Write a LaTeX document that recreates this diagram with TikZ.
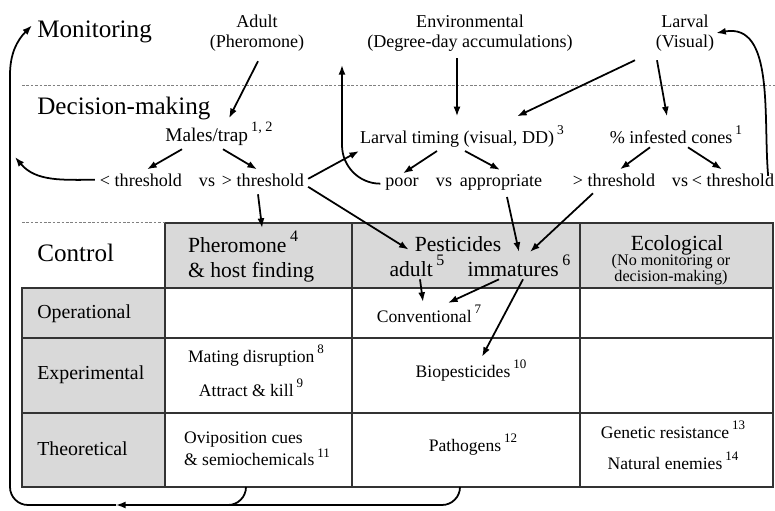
\documentclass[tikz,border=0pt]{standalone}
\usepackage{fontspec}
\setmainfont{Liberation Serif}
\usetikzlibrary{arrows.meta,calc}

\newcommand{\refno}[1]{\,\raisebox{0.48em}{\scalebox{0.74}{#1}}}

\tikzset{
  arr/.style={line width=1pt,-{Latex[length=5.5pt,width=4pt]}},
  level/.style={font=\fontsize{14.3}{16}\selectfont,inner sep=0pt,anchor=base west},
  src/.style={font=\fontsize{10.3}{11.3}\selectfont,inner sep=1pt,align=center},
  dm/.style={font=\fontsize{10.3}{12}\selectfont,inner sep=1pt,anchor=base},
  hdr/.style={font=\fontsize{12.3}{14}\selectfont,inner sep=1pt,anchor=base},
  rowlab/.style={font=\fontsize{11.3}{13}\selectfont,inner sep=0pt,anchor=base west},
  cell/.style={font=\fontsize{10}{12.5}\selectfont,inner sep=1pt,anchor=base},
  note/.style={font=\fontsize{9.2}{9}\selectfont,inner sep=0pt,align=center},
  sep/.style={gray,line width=0.5pt,dash pattern=on 1.5pt off 1pt},
  grid/.style={black!80,line width=0.8pt},
}

\begin{document}
\begin{tikzpicture}[x=0.02cm,y=-0.02cm]
            \useasboundingbox (0,0) rectangle (775,511);
            % Table
            \fill[gray!30] (165,223) rectangle (773,288);
            \fill[gray!30] (22,288) rectangle (165,487);
            \draw[grid] (165,223) -- (773,223) -- (773,487) -- (22,487) -- (22,288) -- (773,288);
            \draw[grid] (165,223) -- (165,487);
            \draw[grid] (352,223) -- (352,487);
            \draw[grid] (580,223) -- (580,487);
            \draw[grid] (22,338) -- (773,338);
            \draw[grid] (22,413) -- (773,413);
            \draw[sep] (22,85) -- (775,85);
            \draw[sep] (22,222) -- (165,222);

            % Levels
            \node[level] (mon) at (37,37) {Monitoring};
            \node[level] (dec) at (37,114) {Decision-making};
            \node[level] (ctl) at (37,261) {Control};

            % Monitoring
            \node[src] (adult) at (257,33) {Adult\\(Pheromone)};
            \node[src] (env) at (470,33) {Environmental\\(Degree-day accumulations)};
            \node[src] (larv) at (685,33) {Larval\\(Visual)};

            % Decision-making
            \node[dm,font=\fontsize{11}{12}\selectfont] (males) at (219,141) {Males/trap\refno{1, 2}};
            \node[dm] (timing) at (462,143) {Larval timing (visual, DD)\refno{3}};
            \node[dm] (infest) at (676,143) {\% infested cones\refno{1}};
            \node[dm] (ltA) at (141,186) {< threshold};
            \node[dm] (vsA) at (207,186) {vs};
            \node[dm] (gtA) at (263,186) {> threshold};
            \node[dm] (poor) at (402,186) {poor};
            \node[dm] (vsB) at (444,186) {vs};
            \node[dm] (appr) at (501,186) {appropriate};
            \node[dm] (gtB) at (614,186) {> threshold};
            \node[dm] (vsC) at (680,186) {vs};
            \node[dm] (ltC) at (733,186) {< threshold};

            % Control header
            \node[hdr,anchor=base west] (pher) at (186,252) {Pheromone\refno{4}};
            \node[hdr,anchor=base west] (host) at (186,277) {\& host finding};
            \node[hdr] (pest) at (458,251) {Pesticides};
            \node[hdr] (adP) at (417,276) {adult\refno{5}};
            \node[hdr] (imm) at (519,276) {immatures\refno{6}};
            \node[hdr] (eco) at (677,250) {Ecological};
            \node[note] (nomon) at (671,270) {(No monitoring or\\decision-making)};

            % Rows
            \node[rowlab] (oper) at (37,318) {Operational};
            \node[rowlab] (expe) at (37,379) {Experimental};
            \node[rowlab] (theo) at (37,455) {Theoretical};
            \node[cell] (conv) at (429,322) {Conventional\refno{7}};
            \node[cell] (mate) at (256,362) {Mating disruption\refno{8}};
            \node[cell] (kill) at (251,396) {Attract \& kill\refno{9}};
            \node[cell] (bio) at (471,377) {Biopesticides\refno{10}};
            \node[cell,align=left,anchor=center] (ovi) at (257,449) {Oviposition cues\\\& semiochemicals\refno{11}};
            \node[cell] (path) at (473,451) {Pathogens\refno{12}};
            \node[cell] (gene) at (673,438) {Genetic resistance\refno{13}};
            \node[cell] (nat) at (673,469) {Natural enemies\refno{14}};

            % Monitoring -> decision
            \draw[arr] ($(adult.south)+(1,8)$) -- ($(males.north)+(10,-2)$);
            \draw[arr] ($(env.south)+(-13,5)$) -- ($(timing.north)+(-5,-7)$);
            \draw[arr] ($(larv.south)+(-50,7)$) -- ($(timing.north)+(55,-7)$);
            \draw[arr] ($(larv.south)+(-28,7)$) -- ($(infest.north)+(-9,-7)$);
            \draw[arr] ($(ltC.east)+(-8,-4)$) to[out=95,in=10] (larv.east);

            % Decision-making
            \draw[arr] ($(males.south)+(-37,2)$) -- ($(ltA.north)+(6,-2)$);
            \draw[arr] ($(males.south)+(4,2)$) -- ($(gtA.north)+(-6,-2)$);
            \draw[arr] ($(timing.south)+(-25,2)$) -- ($(poor.north)+(1,-2)$);
            \draw[arr] ($(timing.south)+(3,2)$) -- ($(appr.north)+(-1,-2)$);
            \draw[arr] ($(infest.south)+(-26,2)$) -- ($(gtB.north)+(6,-2)$);
            \draw[arr] ($(infest.south)+(12,2)$) -- ($(ltC.north)+(-11,-2)$);
            \coordinate (backL) at (15,157);
            \draw[arr] ($(ltA.west)+(-3,0)$) to[out=180,in=-50] (backL);
            \coordinate (backM) at (342,65);
            \draw[arr] ($(poor.west)+(-3,0)$) to[out=180,in=-90] ($(backM)+(0,80)$) -- (backM);
            \draw[arr] ($(gtA.east)+(2,-1)$) -- ($(timing.south west)+(1,2)$);

            % Decision -> control
            \draw[arr] ($(gtA.south)+(-5,6)$) -- ($(pher.north)+(19,-1)$);
            \draw[arr] ($(gtA.east)+(2,7)$) -- ($(pest.west)+(-4,6)$);
            \draw[arr] ($(appr.south)+(6,5)$) -- ($(imm.north)+(0,-1)$);
            \draw[arr] ($(gtB.south)+(-21,5)$) -- ($(imm.north)+(11,-1)$);

            % Control
            \draw[arr] ($(adP.south)+(3,1)$) -- ($(conv.north)+(-6,-1)$);
            \draw[arr] ($(imm.south)+(-20,1)$) -- ($(conv.north)+(19,0)$);
            \draw[arr] ($(imm.south)+(4,1)$) -- ($(bio.north)+(11,-1)$);

            % Back to monitoring
            \coordinate (tabL) at (246,487);
            \coordinate (tabM) at (460,487);
            \coordinate (botTip) at (116,505);
            \draw[line width=1pt] (tabL) to[out=-90,in=0] ++(-18,18);
            \draw[arr] (tabM) to[out=-90,in=0] ++(-18,18) -- (botTip);
            \draw[arr] (botTip) -- (28,505) to[out=180,in=-90] (10,487)
                -- (10,75) to[out=90,in=-135] ($(mon.west)+(-5,-6)$);
\end{tikzpicture}
\end{document}
